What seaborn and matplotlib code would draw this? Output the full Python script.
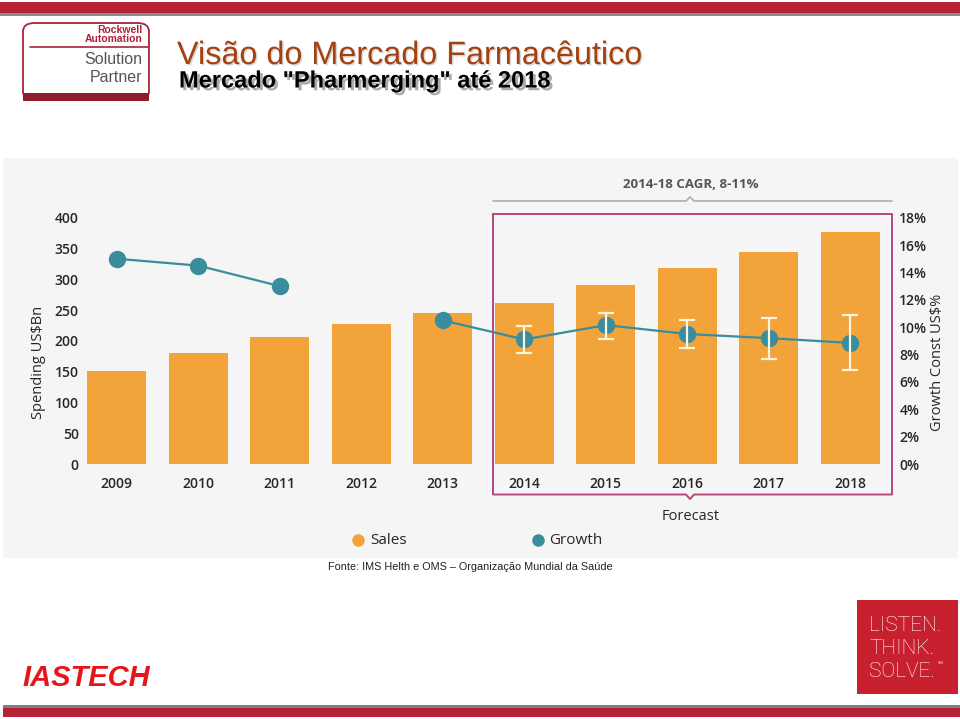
import numpy as np
import pandas as pd
import matplotlib
matplotlib.use("Agg")
import matplotlib.pyplot as plt
import matplotlib.patheffects as pe
from matplotlib.patches import Rectangle, FancyBboxPatch
from matplotlib.lines import Line2D
import seaborn as sns

# Dados do gráfico
anos = ["2009", "2010", "2011", "2012", "2013", "2014", "2015", "2016", "2017", "2018"]
vendas = [151, 181, 207, 228, 246, 262, 290, 318, 345, 376]
crescimento = [15.0, 14.5, 13.0, np.nan, 10.5, 9.1, 10.15, 9.5, 9.2, 8.85]
faixa_sup = [np.nan, np.nan, np.nan, np.nan, np.nan, 10.1, 11.05, 10.55, 10.7, 10.9]
faixa_inf = [np.nan, np.nan, np.nan, np.nan, np.nan, 8.1, 9.1, 8.45, 7.7, 6.9]
ticks_vendas = [0, 50, 100, 150, 200, 250, 300, 350, 400]
ticks_cresc = [0, 2, 4, 6, 8, 10, 12, 14, 16, 18]

LARG, ALT = 960, 719
LARANJA = "#f2a33a"
AZUL = "#3a8d9c"
MAGENTA = "#b4487e"
TEXTO = "#262626"


def fx(x):
    return x / LARG


def fy(y):
    return 1 - y / ALT


sns.set_theme(style="white")
plt.rcParams["font.family"] = ["Open Sans", "DejaVu Sans"]

fig = plt.figure(figsize=(LARG / 100, ALT / 100), dpi=100)
fig.patch.set_facecolor("white")

# ==============================================================================
# Moldura do slide
# ==============================================================================
fig.add_artist(Rectangle((fx(0), fy(13)), 1, 11 / ALT, transform=fig.transFigure, color="#b72234", lw=0))
fig.add_artist(Rectangle((fx(0), fy(15.5)), 1, 2.5 / ALT, transform=fig.transFigure, color="#8a8a8a", lw=0))
fig.add_artist(Rectangle((fx(3), fy(708)), 1, 3 / ALT, transform=fig.transFigure, color="#808080", lw=0))
fig.add_artist(Rectangle((fx(3), fy(717)), 1, 9 / ALT, transform=fig.transFigure, color="#b72234", lw=0))

# logo Rockwell
fig.add_artist(FancyBboxPatch((fx(23), fy(100)), 126 / LARG, 77 / ALT, boxstyle="round,pad=0,rounding_size=0.012",
                              transform=fig.transFigure, facecolor="white", edgecolor="#a8243c", lw=1.3))
fig.add_artist(Rectangle((fx(23), fy(101)), 126 / LARG, 8 / ALT, transform=fig.transFigure, color="#8e1c30", lw=0))
fig.add_artist(Line2D([fx(30), fx(148)], [fy(47), fy(47)], transform=fig.transFigure, color="#a8243c", lw=1.2))
fig.text(fx(142), fy(30), "Rockwell", ha="right", va="center", fontsize=7.5, fontweight="bold",
         color="#b0203a", family=["Liberation Sans", "DejaVu Sans"])
fig.text(fx(142), fy(39.5), "Automation", ha="right", va="center", fontsize=7.5, fontweight="bold",
         color="#b0203a", family=["Liberation Sans", "DejaVu Sans"])
fig.text(fx(142), fy(60), "Solution", ha="right", va="center", fontsize=11.5,
         color="#555555", family=["Liberation Sans", "DejaVu Sans"])
fig.text(fx(142), fy(77), "Partner", ha="right", va="center", fontsize=11.5,
         color="#555555", family=["Liberation Sans", "DejaVu Sans"])

# títulos
fig.text(fx(177), fy(64), "Visão do Mercado Farmacêutico", ha="left", va="baseline", fontsize=23.3,
         color="#a3410f", family=["Liberation Sans", "DejaVu Sans"],
         path_effects=[pe.withSimplePatchShadow(offset=(1, -1), shadow_rgbFace="#bbbbbb", alpha=0.6)])
fig.text(fx(179), fy(87.5), 'Mercado "Pharmerging" até 2018', ha="left", va="baseline", fontsize=17,
         fontweight="bold", color="black", family=["Liberation Sans", "DejaVu Sans"],
         path_effects=[pe.withSimplePatchShadow(offset=(2, -2), shadow_rgbFace="#888888", alpha=0.7)])

# fundo do gráfico
fig.add_artist(Rectangle((fx(3), fy(558)), 955 / LARG, 400 / ALT, transform=fig.transFigure,
                         color="#f5f5f5", lw=0, zorder=0))

# ==============================================================================
# Gráfico de barras + linha de crescimento
# ==============================================================================
ax = fig.add_axes([fx(76), fy(464), (891 - 76) / LARG, (464 - 217.7) / ALT])
ax.set_facecolor("none")
df = pd.DataFrame({"Ano": anos, "Vendas": vendas})
sns.barplot(data=df, x="Ano", y="Vendas", color=LARANJA, saturation=1, width=0.72, linewidth=0, ax=ax)
ax.set_xlim(-0.5, len(anos) - 0.5)
ax.set_ylim(0, 400)
ax.set_yticks(ticks_vendas)
ax.set_xlabel("")
ax.set_ylabel("")
ax.tick_params(axis="y", length=0, pad=-2, labelsize=10, labelcolor=TEXTO)
ax.tick_params(axis="x", length=0, pad=9, labelsize=10, labelcolor=TEXTO)
for s in ax.spines.values():
    s.set_visible(False)

ax2 = ax.twinx()
pos = np.arange(len(anos))
ax2.plot(pos, crescimento, color=AZUL, lw=1.6, marker="o", ms=11.5, zorder=3)
sup = np.array(faixa_sup)
inf = np.array(faixa_inf)
cresc = np.array(crescimento)
m = ~np.isnan(sup)
ax2.errorbar(pos[m], cresc[m], yerr=[cresc[m] - inf[m], sup[m] - cresc[m]], fmt="none",
             ecolor="#fdf5e4", elinewidth=1.6, capsize=5.5, capthick=1.6, zorder=4)
ax2.set_ylim(0, 18)
ax2.set_yticks(ticks_cresc)
ax2.set_yticklabels([f"{t}%" for t in ticks_cresc])
ax2.tick_params(axis="y", length=0, pad=6, labelsize=10, labelcolor=TEXTO)
for s in ax2.spines.values():
    s.set_visible(False)
ax2.grid(False)
ax.grid(False)
for lbl in ax.get_xticklabels() + ax.get_yticklabels() + ax2.get_yticklabels():
    lbl.set_fontweight("semibold")

fig.text(fx(38), fy(362), "Spending US$Bn", rotation=90, ha="center", va="center", fontsize=10.5, color=TEXTO)
fig.text(fx(937), fy(362), "Growth Const US$%", rotation=90, ha="center", va="center", fontsize=10.5, color=TEXTO)

# bloco de previsão
fig.text(fx(691), fy(184), "2014-18 CAGR, 8-11%", ha="center", va="center", fontsize=9.5,
         fontweight="bold", color="#555555")
fig.add_artist(Line2D([fx(493), fx(686), fx(690), fx(694), fx(892)],
                      [fy(201), fy(201), fy(197), fy(201), fy(201)],
                      transform=fig.transFigure, color="#a9aeb5", lw=1.2))
fig.add_artist(Line2D([fx(493), fx(892), fx(892), fx(694), fx(690), fx(686), fx(493), fx(493)],
                      [fy(214), fy(214), fy(494.5), fy(494.5), fy(499), fy(494.5), fy(494.5), fy(214)],
                      transform=fig.transFigure, color=MAGENTA, lw=1.4))
fig.text(fx(691), fy(517), "Forecast", ha="center", va="center", fontsize=10.5, color=TEXTO)

# legenda
fig.add_artist(Line2D([fx(358)], [fy(540)], transform=fig.transFigure, marker="o", ms=8,
                      color=LARANJA, lw=0))
fig.text(fx(370), fy(540), "Sales", ha="left", va="center", fontsize=11, color=TEXTO)
fig.add_artist(Line2D([fx(538)], [fy(540)], transform=fig.transFigure, marker="o", ms=8,
                      color=AZUL, lw=0))
fig.text(fx(549), fy(540), "Growth", ha="left", va="center", fontsize=11, color=TEXTO)

# fonte
fig.text(fx(328), fy(567), "Fonte: IMS Helth e OMS – Organização Mundial da Saúde", ha="left", va="center",
         fontsize=7.8, color="#222222", family=["Liberation Sans", "DejaVu Sans"])

# rodapé
fig.text(fx(22), fy(686), "IASTECH", ha="left", va="baseline", fontsize=21, fontweight="bold",
         fontstyle="italic", color="#e8141a", family=["Liberation Sans", "DejaVu Sans"])
fig.add_artist(Rectangle((fx(857), fy(694)), 101 / LARG, 94 / ALT, transform=fig.transFigure,
                         color="#c8202f", lw=0))
for i, palavra in enumerate(["LISTEN.", "THINK.", "SOLVE."]):
    fig.text(fx(869), fy(631 + 23 * i), palavra, ha="left", va="baseline", fontsize=15,
             color="white", family=["Roboto", "DejaVu Sans"], fontweight="light")
fig.text(fx(938), fy(663), "SM", ha="left", va="center", fontsize=3, color="white")

fig.savefig("out.png", dpi=100)
